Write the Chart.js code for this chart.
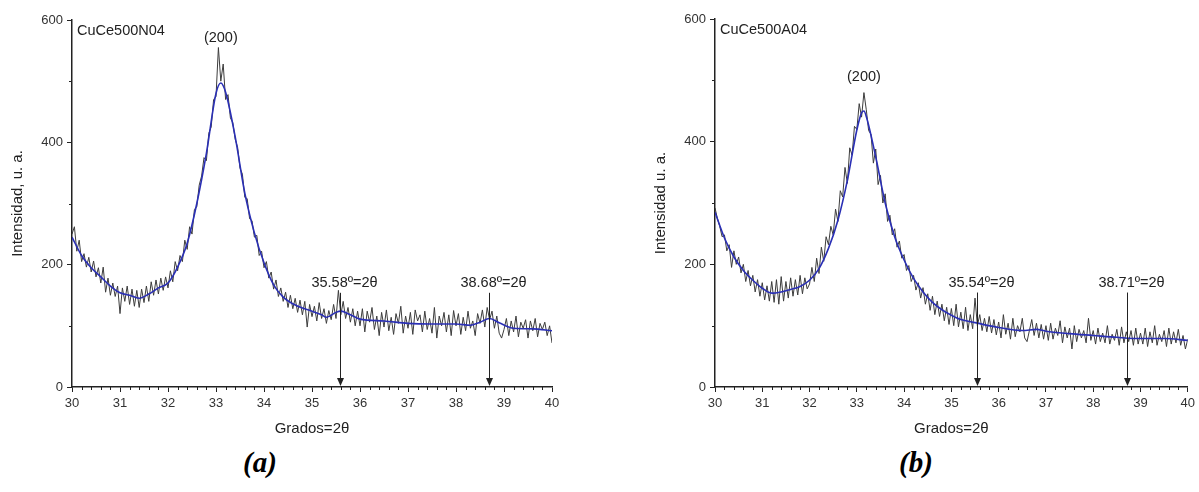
<!DOCTYPE html>
<html>
<head>
<meta charset="utf-8">
<script src="https://cdn.jsdelivr.net/npm/chart.js@4.4.1/dist/chart.umd.min.js"></script>
<style>
  body { margin: 0; background: #fff; width: 1199px; height: 492px; position: relative; overflow: hidden; }
  canvas { position: absolute; top: 0; }
  #grafA { left: 0; }
  #grafB { left: 600px; }
  .letra { position: absolute; top: 448px; font-family: "Liberation Serif", "Times New Roman", serif;
           font-weight: bold; font-style: italic; font-size: 29px; line-height: 1; color: #000; }
</style>
</head>
<body>
<canvas id="grafA" width="600" height="445"></canvas>
<canvas id="grafB" width="599" height="445"></canvas>
<div class="letra" style="left:243px">(a)</div>
<div class="letra" style="left:899px">(b)</div>

<script>
// ------------------------------------------------------------------
// DATOS (leidos del difractograma)
// ------------------------------------------------------------------
const grados = [
  30,30.05,30.1,30.15,30.2,30.25,30.3,30.35,30.4,30.45,30.5,30.55,30.6,30.65,30.7,30.75,30.8,30.85,30.9,30.95,
  31,31.05,31.1,31.15,31.2,31.25,31.3,31.35,31.4,31.45,31.5,31.55,31.6,31.65,31.7,31.75,31.8,31.85,31.9,31.95,
  32,32.05,32.1,32.15,32.2,32.25,32.3,32.35,32.4,32.45,32.5,32.55,32.6,32.65,32.7,32.75,32.8,32.85,32.9,32.95,
  33,33.05,33.1,33.15,33.2,33.25,33.3,33.35,33.4,33.45,33.5,33.55,33.6,33.65,33.7,33.75,33.8,33.85,33.9,33.95,
  34,34.05,34.1,34.15,34.2,34.25,34.3,34.35,34.4,34.45,34.5,34.55,34.6,34.65,34.7,34.75,34.8,34.85,34.9,34.95,
  35,35.05,35.1,35.15,35.2,35.25,35.3,35.35,35.4,35.45,35.5,35.55,35.6,35.65,35.7,35.75,35.8,35.85,35.9,35.95,
  36,36.05,36.1,36.15,36.2,36.25,36.3,36.35,36.4,36.45,36.5,36.55,36.6,36.65,36.7,36.75,36.8,36.85,36.9,36.95,
  37,37.05,37.1,37.15,37.2,37.25,37.3,37.35,37.4,37.45,37.5,37.55,37.6,37.65,37.7,37.75,37.8,37.85,37.9,37.95,
  38,38.05,38.1,38.15,38.2,38.25,38.3,38.35,38.4,38.45,38.5,38.55,38.6,38.65,38.7,38.75,38.8,38.85,38.9,38.95,
  39,39.05,39.1,39.15,39.2,39.25,39.3,39.35,39.4,39.45,39.5,39.55,39.6,39.65,39.7,39.75,39.8,39.85,39.9,39.95,
  40
];

// CuCe500N04 - medida
const medidaN = [
  250,262,222,240,205,218,196,212,188,206,180,195,170,196,155,178,150,170,148,165,
  120,162,140,165,135,160,132,158,130,160,138,165,140,172,150,175,152,178,158,180,
  162,190,172,205,190,215,205,240,225,262,250,290,295,330,345,375,370,415,425,470,
  475,555,500,528,470,478,440,432,405,392,358,348,310,308,275,272,245,248,215,222,
  195,205,178,188,160,175,148,162,140,155,130,150,128,145,122,142,118,140,98,135,
  115,132,108,138,112,128,104,125,110,135,112,158,118,140,112,130,106,128,100,124,
  100,128,90,124,106,130,94,116,84,122,98,126,92,114,86,120,104,132,88,116,
  96,122,86,126,108,118,90,124,94,112,88,130,80,116,100,122,90,118,84,125,
  100,120,86,114,92,124,96,108,84,120,104,126,98,130,110,124,96,116,88,80,
  94,112,84,108,90,116,82,106,96,110,80,108,92,112,82,104,94,106,84,100,
  72
];

// CuCe500A04 - medida
const medidaA = [
  292,275,262,245,248,222,232,195,222,200,212,186,200,172,190,165,182,155,175,148,
  170,142,165,140,172,138,175,135,180,140,172,145,178,148,175,150,182,152,178,160,
  168,195,172,210,185,228,205,245,232,262,248,290,270,320,310,358,332,390,378,425,
  420,462,440,480,452,418,412,365,388,330,345,300,315,270,280,248,258,228,238,210,
  216,190,198,172,182,158,170,145,162,135,152,125,148,118,140,115,135,108,130,102,
  128,100,135,98,122,95,130,92,118,95,145,100,118,92,112,90,115,88,110,85,
  106,80,118,86,104,78,112,82,100,90,112,80,74,92,110,84,104,80,102,78,
  100,76,104,78,96,84,108,72,98,80,96,62,100,74,94,80,92,72,112,76,
  92,70,96,74,88,72,100,70,86,76,94,68,98,72,90,74,92,68,96,70,
  88,70,96,66,90,72,100,68,86,74,92,66,96,70,90,72,94,68,84,62,
  78
];

// curvas suavizadas (azul)
const ajusteGradosN = [30,30.2,30.4,30.6,30.8,31,31.2,31.4,31.6,31.8,32,32.2,32.4,32.6,32.8,33,33.1,33.2,33.4,33.6,33.8,
  34,34.2,34.4,34.6,34.8,35,35.2,35.3,35.5,35.6,35.8,36,36.5,37,37.5,38,38.3,38.5,38.7,38.9,39.2,39.6,40];
const ajusteN = [245,215,195,180,165,154,150,145,152,162,170,196,235,300,382,480,497,482,409,317,252,
  203,167,147,136,129,124,118,114,122,124,118,111,108,104,103,103,101,106,112,105,96,95,92];

const ajusteGradosA = [30,30.2,30.4,30.6,30.8,31,31.2,31.4,31.6,31.8,32,32.2,32.4,32.6,32.8,33,33.1,33.15,33.2,33.4,33.6,33.8,
  34,34.2,34.4,34.6,34.8,35,35.2,35.5,36,36.5,36.8,37,37.5,38,38.5,39,39.5,40];
const ajusteA = [285,243,212,190,174,161,153,155,159,164,174,193,226,272,337,419,447,450,441,375,300,245,
  207,177,155,138,126,117,110,105,97,92,94,91,87,84,81,79,79,76];

const ticksX = [30,31,32,33,34,35,36,37,38,39,40];
const ticksY = [0,200,400,600];
const menoresY = [100,300,500];

const FUENTE = '"Liberation Sans", Arial, sans-serif';

// ------------------------------------------------------------------
// plugin: textos, flechas, ticks menores y titulos de ejes
// ------------------------------------------------------------------
const anotaciones = {
    id: "anotaciones",
    afterDraw(chart, args, o) {
        const { ctx, chartArea: a, scales: { x, y } } = chart;
        ctx.save();
        ctx.strokeStyle = "#222";
        ctx.fillStyle = "#222";
        ctx.lineWidth = 1;

        // ticks menores
        ctx.beginPath();
        for (let i = 1; i < 50; i++) {
            if (i % 5 === 0) continue;
            const px = Math.round(x.getPixelForValue(30 + i * 0.2)) + 0.5;
            ctx.moveTo(px, a.bottom);
            ctx.lineTo(px, a.bottom + 3);
        }
        menoresY.forEach(v => {
            const py = Math.round(y.getPixelForValue(v)) + 0.5;
            ctx.moveTo(a.left, py);
            ctx.lineTo(a.left - 3, py);
        });
        ctx.stroke();

        // nombre de la muestra
        ctx.font = "14.5px " + FUENTE;
        ctx.textBaseline = "middle";
        ctx.textAlign = "left";
        ctx.fillText(o.muestra, a.left + 5, a.top + 11);

        // (200)
        ctx.textAlign = "center";
        ctx.fillText("(200)", x.getPixelForValue(o.pico[0]), y.getPixelForValue(o.pico[1]));

        // flechas
        o.flechas.forEach(f => {
            const px = Math.round(x.getPixelForValue(f)) + 0.5;
            const arriba = y.getPixelForValue(154);
            const abajo = y.getPixelForValue(0);
            ctx.beginPath();
            ctx.moveTo(px, arriba);
            ctx.lineTo(px, abajo - 7);
            ctx.stroke();
            ctx.beginPath();
            ctx.moveTo(px - 3.5, abajo - 9);
            ctx.lineTo(px + 3.5, abajo - 9);
            ctx.lineTo(px, abajo - 1);
            ctx.closePath();
            ctx.fill();
            ctx.fillText(f.toFixed(2) + "º=2θ", px + 4, arriba - 10);
        });

        // titulos de ejes
        ctx.font = "15px " + FUENTE;
        ctx.fillText("Grados=2θ", (a.left + a.right) / 2, a.bottom + 42);
        ctx.translate(a.left - 54, (a.top + a.bottom) / 2);
        ctx.rotate(-Math.PI / 2);
        ctx.fillText(o.tituloY, 0, 0);
        ctx.restore();
    }
};

// ------------------------------------------------------------------
function crearGrafico(id, medida, ajX, ajY, extra) {

    const ctx = document.getElementById(id).getContext("2d");

    return new Chart(ctx, {
        type: "line",
        data: {
            datasets: [
                {
                    data: ajX.map((g, i) => ({ x: g, y: ajY[i] })),
                    borderColor: "#2a2fb5",
                    borderWidth: 1.6,
                    pointRadius: 0,
                    cubicInterpolationMode: "monotone"
                },
                {
                    data: grados.map((g, i) => ({ x: g, y: medida[i] })),
                    borderColor: "#3c3c3c",
                    borderWidth: 1,
                    pointRadius: 0,
                    tension: 0
                }
            ]
        },
        options: {
            responsive: false,
            animation: false,
            events: [],
            layout: { padding: { top: extra.arriba, right: extra.derecha, left: 0, bottom: 0 } },
            plugins: {
                legend: { display: false },
                tooltip: { enabled: false },
                anotaciones: extra
            },
            scales: {
                x: {
                    type: "linear",
                    min: 30, max: 40,
                    afterBuildTicks: s => { s.ticks = ticksX.map(v => ({ value: v })); },
                    afterFit: s => { s.height = 58; },
                    grid: { drawOnChartArea: false, tickLength: 5, color: "#222" },
                    border: { color: "#222", width: 1.5 },
                    ticks: { color: "#333", font: { family: FUENTE, size: 13 }, padding: 4, maxRotation: 0 }
                },
                y: {
                    type: "linear",
                    min: 0, max: 600,
                    afterBuildTicks: s => { s.ticks = ticksY.map(v => ({ value: v })); },
                    afterFit: s => { s.width = extra.anchoY; },
                    grid: { drawOnChartArea: false, tickLength: 5, color: "#222" },
                    border: { color: "#222", width: 1.5 },
                    ticks: { color: "#333", font: { family: FUENTE, size: 13 }, padding: 4 }
                }
            }
        },
        plugins: [anotaciones]
    });
}

crearGrafico("grafA", medidaN, ajusteGradosN, ajusteN, {
    muestra: "CuCe500N04", pico: [33.1, 571], flechas: [35.58, 38.68],
    tituloY: "Intensidad, u. a.", arriba: 20, derecha: 48, anchoY: 72
});

crearGrafico("grafB", medidaA, ajusteGradosA, ajusteA, {
    muestra: "CuCe500A04", pico: [33.15, 506], flechas: [35.54, 38.71],
    tituloY: "Intensidad u. a.", arriba: 19, derecha: 7, anchoY: 115
});
</script>
</body>
</html>
